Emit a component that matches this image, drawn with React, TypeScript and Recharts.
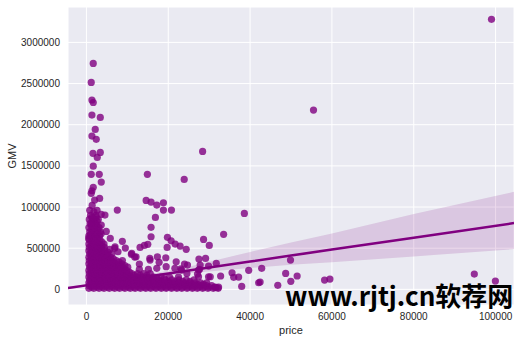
import { ComposedChart, Scatter, Line, Area, XAxis, YAxis, CartesianGrid } from "recharts";

// outlying points (price, GMV)
const scatterPts: [number, number][] = [
  [99000, 3280000], [55500, 2178000], [1670, 2745000], [1180, 2514000], [1350, 2300000],
  [1670, 2270000], [1350, 2117000], [3390, 2089000], [2160, 1943000], [1350, 1862000],
  [2400, 1822000], [1600, 1652000], [3390, 1664000], [2650, 1603000], [28400, 1676000],
  [1670, 1497000], [1180, 1397000], [3140, 1397000], [14900, 1397000], [23900, 1336000],
  [3630, 1303000], [1670, 1239000], [1350, 1198000], [1180, 1166000], [3230, 1105000],
  [2010, 1085000], [14600, 1080000], [15800, 1060000], [17200, 1024000], [18820, 1052000],
  [18820, 963000], [20780, 963000], [16860, 874000], [15800, 753000], [15800, 639000],
  [7550, 963000], [38600, 923000], [33530, 668000], [28630, 607000], [30030, 534000],
  [24390, 486000], [22900, 526000], [19800, 632000], [20700, 590000], [21690, 550000],
  [13110, 510000], [14170, 534000], [15000, 547000], [9510, 502000], [8780, 583000],
  [6990, 517000], [5690, 486000], [5830, 619000], [4850, 704000], [4530, 902000],
  [3630, 911000], [1840, 943000], [1180, 802000], [1600, 862000], [3630, 781000],
  [900, 659000], [540, 619000], [6910, 498000], [7720, 457000], [10980, 425000],
  [11810, 392000], [12130, 396000], [11080, 437000], [15560, 356000], [17350, 396000],
  [19400, 384000], [17770, 328000], [19490, 275000], [21940, 335000], [23080, 250000],
  [12940, 307000], [12940, 243000], [15150, 243000], [17200, 255000], [27500, 368000],
  [29120, 376000], [31740, 316000], [24700, 295000], [27800, 295000], [29860, 283000],
  [27650, 243000], [27150, 186000], [29850, 153000], [27400, 153000], [27400, 234000],
  [30270, 153000], [32800, 162000], [35590, 202000], [37200, 149000], [36000, 146000],
  [39660, 231000], [42840, 255000], [37950, 36000], [31670, 24000], [32300, 28000],
  [42100, 80000], [42450, 89000], [46770, 49000], [48700, 194000], [49880, 356000],
  [51500, 162000], [49950, 97000], [58200, 113000], [59510, 125000], [94800, 186000],
  [99950, 101000], [23970, 307000], [24560, 194000], [23240, 234000], [21620, 255000],
  [15490, 376000], [19730, 510000],
];

// the dense mass near the origin, row by row: [GMV, prices]
const denseRows: [number, number[]][] = [
  [12000, [600, 1800, 3100, 4300, 5600, 6900, 8100, 9400, 10700, 11900, 13200, 14500, 15700, 17000, 18300, 19500, 20800, 22100, 23300, 24600, 25900, 27100, 28400, 29700, 31000, 32200]],
  [28000, [1300, 2600, 3900, 5200, 6500, 7800, 9100, 10400, 11700, 13000, 14300, 15600, 16900, 18200, 19500, 20800, 22100, 23400, 24700, 26000, 27300, 28600, 29900, 31300]],
  [45000, [700, 2000, 3300, 4600, 5900, 7200, 8500, 9800, 11100, 12400, 13700, 15000, 16300, 17600, 18900, 20200, 21500, 22800, 24100, 25400, 26700, 28000, 29300, 30600]],
  [62000, [1200, 2500, 3800, 5100, 6400, 7700, 9000, 10300, 11600, 12900, 14200, 15500, 16800, 18100, 19400, 20700, 22000, 23300, 24600, 25900, 27200, 28600]],
  [80000, [600, 1900, 3200, 4500, 5800, 7100, 8400, 9700, 11000, 12300, 13600, 14900, 16200, 17500, 18800, 20100, 21400, 22700, 24000, 25300, 26600, 27900, 29400]],
  [97000, [1300, 2600, 3900, 5200, 6500, 7800, 9100, 10400, 11700, 13000, 14300, 15600, 16900, 18300, 20000, 21700, 23500, 25300]],
  [115000, [800, 2100, 3400, 4700, 6000, 7300, 8600, 9900, 11200, 12500, 13800, 15100, 16400, 17700, 19300, 20900, 22600, 24400, 26300]],
  [132000, [1200, 2500, 3800, 5100, 6400, 7700, 9000, 10300, 11600, 12900, 14200, 15600, 17200, 19000]],
  [150000, [600, 1900, 3200, 4500, 5800, 7100, 8400, 9700, 11000, 12300, 13600, 14900, 16400, 18200, 20300, 22500]],
  [170000, [1300, 2600, 3900, 5200, 6500, 7800, 9100, 10400, 11700, 13200, 14800]],
  [190000, [700, 2000, 3300, 4600, 5900, 7200, 8500, 9800, 11100, 12500, 14000, 15600]],
  [210000, [1200, 2500, 3800, 5100, 6400, 7700, 9100, 10500]],
  [230000, [600, 1900, 3200, 4500, 5800, 7100, 8400, 9800]],
  [250000, [1300, 2600, 3900, 5200, 6500, 7800, 9200]],
  [270000, [800, 2100, 3400, 4700, 6000, 7300, 8700, 10100]],
  [290000, [1200, 2500, 3800, 5100, 6500, 7900, 9400]],
  [310000, [600, 1900, 3200, 4500, 5800, 7200, 8700]],
  [330000, [1300, 2600, 3900, 5200, 6500, 8000]],
  [350000, [700, 2000, 3300, 4600, 5900, 7300, 8800]],
  [370000, [1200, 2500, 3800, 5200, 6600]],
  [390000, [600, 1900, 3200, 4500, 5900]],
  [410000, [1300, 2600, 3900, 5300]],
  [430000, [800, 2100, 3400, 4800, 6200]],
  [450000, [1200, 2500, 3800, 5300]],
  [470000, [600, 1900, 3200, 4500]],
  [490000, [1300, 2600, 3800]],
  [510000, [700, 2000, 3300, 4400]],
  [530000, [1200, 2500, 3700]],
  [550000, [600, 1900, 3200, 4300]],
  [575000, [1300, 2600, 3800]],
  [600000, [700, 2000, 3300]],
  [625000, [1300, 2600]],
  [650000, [600, 1900, 3200]],
  [675000, [1200, 2500, 3600]],
  [700000, [800, 2100, 3400]],
  [725000, [1300, 2700]],
  [750000, [600, 1900, 3100]],
  [775000, [1200, 2500]],
  [800000, [900, 2200]],
  [825000, [1500, 2600]],
  [850000, [700, 2000, 2900]],
  [875000, [1300, 2400]],
  [900000, [1000, 2300]],
  [960000, [800, 2600]],
  [1020000, [1400]],
];

// regression fit and its confidence band
const fitX = [-4500, 5000, 15000, 25000, 40000, 50000, 60000, 80000, 104500];
const fitY = [16000, 85000, 157000, 230000, 338000, 410000, 483000, 628000, 805000];
const ciLow = [2000, 72000, 138000, 195000, 258000, 300000, 330000, 400000, 489000];
const ciHigh = [32000, 98000, 180000, 275000, 455000, 570000, 680000, 915000, 1185000];

const xTicks = [0, 20000, 40000, 60000, 80000, 100000];
const yTicks = [0, 500000, 1000000, 1500000, 2000000, 2500000, 3000000];

const PURPLE = "#800080";

const points = [
  ...denseRows.flatMap(([y, xs]) => xs.map((x) => ({ x, y }))),
  ...scatterPts.map(([x, y]) => ({ x, y })),
];
const fitData = fitX.map((x, i) => ({ x, fit: fitY[i], ci: [ciLow[i], ciHigh[i]] }));

const tickStyle = { fontSize: 10, fill: "#262626", fontFamily: "Liberation Sans, Arial, sans-serif" };

function Dot(props: any) {
  return <circle cx={props.cx} cy={props.cy} r={3.6} fill={PURPLE} fillOpacity={0.8} />;
}

export default function App() {
  return (
    <div style={{ position: "absolute", left: 0, top: 0, width: 521, height: 343, background: "#fff" }}>
      <ComposedChart width={521} height={343} data={fitData} margin={{ top: 7, right: 7, left: 0, bottom: 0 }}>
        <CartesianGrid stroke="#fff" strokeWidth={1} fill="#eaeaf2" />
        <XAxis
          dataKey="x" type="number" domain={[-4500, 104500]} ticks={xTicks} allowDataOverflow
          axisLine={false} tickLine={false} tick={tickStyle} height={38} interval={0}
          label={{ value: "price", position: "insideBottom", offset: 9, style: { ...tickStyle, fontSize: 11 } }}
        />
        <YAxis
          type="number" domain={[-190000, 3430000]} ticks={yTicks} allowDataOverflow
          axisLine={false} tickLine={false} tick={tickStyle} width={68} interval={0}
          label={{ value: "GMV", angle: -90, position: "insideLeft", offset: 12, style: { ...tickStyle, fontSize: 11, textAnchor: "middle" } }}
        />
        <Scatter data={points} dataKey="y" shape={<Dot />} isAnimationActive={false} />
        <Area dataKey="ci" type="linear" stroke="none" fill={PURPLE} fillOpacity={0.15} isAnimationActive={false} />
        <Line dataKey="fit" type="linear" stroke={PURPLE} strokeWidth={2.5} dot={false} activeDot={false} isAnimationActive={false} />
      </ComposedChart>
      <svg width={521} height={343} style={{ position: "absolute", left: 0, top: 0, pointerEvents: "none" }}>
        <text x={285} y={306} fontSize={26} fontWeight={700} fill="#000" fontFamily="Noto Sans CJK SC, Noto Sans, sans-serif">
          www.rjtj.cn软荐网
        </text>
      </svg>
    </div>
  );
}
